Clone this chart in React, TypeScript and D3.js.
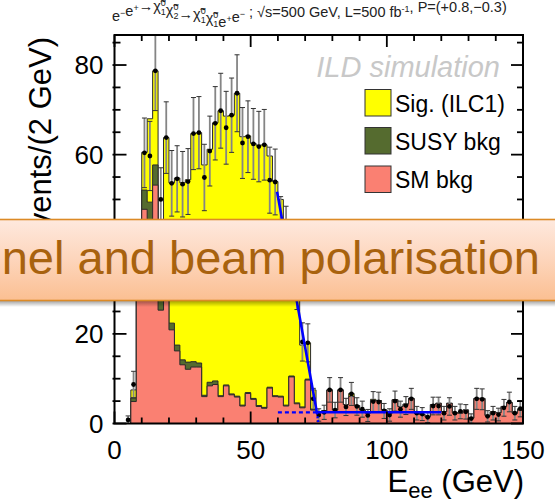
import React, { useEffect, useRef } from 'react';
import * as d3 from 'd3';

// E_ee histogram, 2 GeV bins from 0 to 150 GeV
const binLow = d3.range(0, 150, 2);

const smBkg = [
  0, 0, 0, 4.9, 33, 47.8, 44, 53.2, 25.3, 30,
  20.9, 16.2, 13.1, 12.1, 12.6, 12.6, 6.0, 8.4, 8.7, 6.0,
  8.4, 6.4, 5.9, 3.9, 6.7, 5.4, 3.8, 3.4, 7.9, 6.0,
  5.9, 3.9, 10.4, 4.4, 3.5, 9.7, 3.0, 2.6, 2.8, 7.5,
  3.0, 7.5, 4.2, 6.0, 4.0, 3.0, 2.3, 5.1, 5.1, 3.0,
  2.3, 5.3, 3.8, 4.3, 5.6, 2.3, 2.0, 1.5, 4.2, 4.5,
  2.6, 4.5, 2.4, 2.3, 3.0, 1.2, 5.6, 5.6, 1.8, 2.6,
  2.4, 3.8, 4.7, 2.3, 3.0,
];

const susyBkg = [
  0, 0, 0, 0.8, 2.5, 4.3, 5.4, 4.5, 3.7, 3.0,
  1.5, 1.3, 1.1, 1.6, 1.2, 0.9, 0.3, 0.8, 0.8, 0.2,
  0.2, 0.2, 0.2, 0.2, 0.2, 0.2, 0.2, 0.2, 0.2, 0.2,
  0.2, 0.2, 0.2, 0.2, 0.2, 0.2, 0.2, 0, 0, 0,
  0, 0, 0, 0, 0, 0, 0, 0, 0, 0,
  0, 0, 0, 0, 0, 0, 0, 0, 0, 0,
  0, 0, 0, 0, 0, 0, 0, 0, 0, 0,
  0, 0, 0, 0, 0,
];

const signal = [
  0, 0, 0, 1.8, 4, 8.4, 18.6, 21.0, 13.0, 30.8,
  31.3, 37.3, 39.5, 40.7, 50.9, 51.4, 51.4, 52.0, 57.6, 63.6,
  60.0, 62.2, 67.6, 59.9, 57.3, 56.9, 58.1, 58.6, 51.6, 47.8,
  43.9, 39.9, 26.4, 25.4, 13.8, 8.1, 4.3, 0, 0, 0,
  0, 0, 0, 0.7, 0, 0, 0, 0.3, 0, 0,
  0, 0, 0, 0, 0, 0, 0, 0, 0, 0,
  0, 0, 0, 0, 0, 0, 0, 0, 0, 0,
  0, 0, 0, 0, 0.3,
];

const dataPts: (number | null)[] = [
  null, null, 0.8, 8.7, 38, 60.4, 59.7, 78.7, 50.0, 63.8,
  53.6, 54.6, 53.4, 54.0, 64.7, 64.9, 54.9, 60.8, 67.0, 69.8,
  66.0, 68.8, 73.7, 62.6, 64.0, 62.4, 61.8, 62.2, 54.3, 53.9,
  44, 42, 36, 31, 18.2, 18.0, 5.5, 1.9, 2.5, 7.5,
  3.0, 7.5, 3.7, 6.6, 3.8, 3.2, 1.8, 4.9, 4.8, 2.8,
  1.9, 5.0, 3.2, 4.0, 5.5, 2.3, 2.1, 1.4, 3.9, 3.9,
  2.3, 3.8, 2.3, 2.7, 2.6, 1.1, 5.5, 5.4, 1.6, 2.3,
  2.0, 3.5, 4.8, 2.3, 3.3,
];

// endpoint fit (GeV, events)
const fitEdge = [[59.7, 51.7], [74.3, 2.5], [120, 2.5]];
const fitBkg = [[60, 2.5], [74.3, 2.5]];
const fitTail = [[74.3, 2.5], [74.8, 0.3]];

const xTicks = [0, 50, 100, 150];
const yTicks = [0, 20, 40, 60, 80];
const legendLabels = ['Sig. (ILC1)', 'SUSY bkg', 'SM bkg'];
const legendColors = ['#ffff00', '#556b2f', '#fa8072'];

const W = 555;
const H = 503;
const FONT = 'Liberation Sans, Arial, Helvetica, sans-serif';

export default function App() {
  const ref = useRef<SVGSVGElement>(null);

  useEffect(() => {
    const svg = d3.select(ref.current);
    svg.selectAll('*').remove();

    const margin = { top: 35, right: 32, bottom: 79.5, left: 114.5 };
    const x = d3.scaleLinear().domain([0, 150]).range([margin.left, W - margin.right]);
    const y = d3.scaleLinear().domain([0, 86.7]).range([H - margin.bottom, margin.top]);

    const defs = svg.append('defs');
    defs.append('clipPath').attr('id', 'plotclip')
      .append('rect')
      .attr('x', x(0)).attr('y', y(86.7))
      .attr('width', x(150) - x(0)).attr('height', y(0) - y(86.7));
    const grad = defs.append('linearGradient').attr('id', 'banner')
      .attr('x1', 0).attr('y1', 0).attr('x2', 0).attr('y2', 1);
    grad.append('stop').attr('offset', '0%').attr('stop-color', '#fee9de');
    grad.append('stop').attr('offset', '50%').attr('stop-color', '#fdd5bb');
    grad.append('stop').attr('offset', '100%').attr('stop-color', '#fbbf92');
    const shadow = defs.append('linearGradient').attr('id', 'shadow')
      .attr('x1', 0).attr('y1', 0).attr('x2', 0).attr('y2', 1);
    shadow.append('stop').attr('offset', '0%').attr('stop-color', '#000').attr('stop-opacity', 0.35);
    shadow.append('stop').attr('offset', '100%').attr('stop-color', '#000').attr('stop-opacity', 0);

    svg.append('rect').attr('width', W).attr('height', H).attr('fill', '#fff');

    // stacked histogram
    const total = binLow.map((_, i) => smBkg[i] + susyBkg[i] + signal[i]);
    const mid = binLow.map((_, i) => smBkg[i] + susyBkg[i]);
    const steps = (vals: number[]) => [
      ...vals.map((v, i) => [binLow[i], v]),
      [150, vals[vals.length - 1]],
    ];
    const area = d3.area<number[]>()
      .x((d) => x(d[0])).y0(y(0)).y1((d) => y(d[1]))
      .curve(d3.curveStepAfter);
    const plot = svg.append('g').attr('clip-path', 'url(#plotclip)');
    [[total, legendColors[0]], [mid, legendColors[1]], [smBkg, legendColors[2]]].forEach(([vals, col]) => {
      plot.append('path')
        .attr('d', area(steps(vals as number[])))
        .attr('fill', col as string)
        .attr('stroke', '#2a2a2a')
        .attr('stroke-width', 1);
    });

    // data with sqrt(N) errors
    const pts = dataPts
      .map((v, i) => ({ e: binLow[i] + 1, v }))
      .filter((d) => d.v !== null) as { e: number; v: number }[];
    const lo = (d: { v: number }) => Math.max(0, d.v - Math.sqrt(d.v));
    const hi = (d: { v: number }) => d.v + Math.sqrt(d.v);
    const errs = plot.append('g');
    errs.selectAll('line.err')
      .data(pts)
      .join('line')
      .attr('x1', (d) => x(d.e)).attr('x2', (d) => x(d.e))
      .attr('y1', (d) => y(lo(d)))
      .attr('y2', (d) => y(hi(d)))
      .attr('stroke', '#858585').attr('stroke-width', 1.8);
    [lo, hi].forEach((f, k) => {
      errs.selectAll(`line.cap${k}`)
        .data(pts)
        .join('line')
        .attr('x1', (d) => x(d.e) - 2.5).attr('x2', (d) => x(d.e) + 2.5)
        .attr('y1', (d) => y(f(d)))
        .attr('y2', (d) => y(f(d)))
        .attr('stroke', '#333').attr('stroke-width', 1);
    });
    plot.append('g').selectAll('circle')
      .data(pts)
      .join('circle')
      .attr('cx', (d) => x(d.e)).attr('cy', (d) => y(d.v))
      .attr('r', 2.4).attr('fill', '#000');

    // fit lines
    const fline = d3.line<number[]>().x((d) => x(d[0])).y((d) => y(d[1]));
    plot.append('path').attr('d', fline(fitBkg)).attr('fill', 'none')
      .attr('stroke', '#0000ff').attr('stroke-width', 2.2).attr('stroke-dasharray', '4 3');
    plot.append('path').attr('d', fline(fitTail)).attr('fill', 'none')
      .attr('stroke', '#0000ff').attr('stroke-width', 2.2).attr('stroke-dasharray', '2 2');
    plot.append('path').attr('d', fline(fitEdge)).attr('fill', 'none')
      .attr('stroke', '#0000ff').attr('stroke-width', 2.6);

    // frame and ticks (inward, on all four sides)
    const frame = svg.append('g').attr('stroke', '#000');
    frame.append('rect')
      .attr('x', x(0)).attr('y', y(86.7))
      .attr('width', x(150) - x(0)).attr('height', y(0) - y(86.7))
      .attr('fill', 'none').attr('stroke-width', 2);
    const xt = d3.range(0, 151, 10);
    const yt = d3.range(0, 86, 5);
    frame.selectAll('line.xb').data(xt).join('line')
      .attr('x1', (d) => x(d)).attr('x2', (d) => x(d))
      .attr('y1', y(0)).attr('y2', (d) => y(0) - (d % 50 === 0 ? 12 : 6))
      .attr('stroke-width', 1.8);
    frame.selectAll('line.xt').data(xt).join('line')
      .attr('x1', (d) => x(d)).attr('x2', (d) => x(d))
      .attr('y1', y(86.7)).attr('y2', (d) => y(86.7) + (d % 50 === 0 ? 12 : 6))
      .attr('stroke-width', 1.8);
    frame.selectAll('line.yl').data(yt).join('line')
      .attr('y1', (d) => y(d)).attr('y2', (d) => y(d))
      .attr('x1', x(0) - 2).attr('x2', (d) => x(0) + (d % 20 === 0 ? 12 : 6))
      .attr('stroke-width', 1.8);
    frame.selectAll('line.yr').data(yt).join('line')
      .attr('y1', (d) => y(d)).attr('y2', (d) => y(d))
      .attr('x1', x(150)).attr('x2', (d) => x(150) - (d % 20 === 0 ? 12 : 6))
      .attr('stroke-width', 1.8);

    const txt = svg.append('g').attr('font-family', FONT).attr('fill', '#000');
    txt.selectAll('text.xl').data(xTicks).join('text')
      .attr('x', (d) => x(d)).attr('y', 459)
      .attr('text-anchor', 'middle').attr('font-size', 26)
      .text((d) => d);
    txt.selectAll('text.yl').data(yTicks).join('text')
      .attr('x', x(0) - 11).attr('y', (d) => y(d))
      .attr('dy', '0.36em')
      .attr('text-anchor', 'end').attr('font-size', 26)
      .text((d) => d);

    // axis titles
    txt.append('text')
      .attr('transform', `translate(51,${y(86.7) + 2}) rotate(-90)`)
      .attr('text-anchor', 'end').attr('font-size', 31)
      .text('Events/(2 GeV)');
    const xtitle = txt.append('text')
      .attr('x', x(150) + 1).attr('y', 492)
      .attr('text-anchor', 'end').attr('font-size', 31);
    xtitle.append('tspan').text('E');
    xtitle.append('tspan').attr('font-size', 22).attr('dy', 6).text('ee');
    xtitle.append('tspan').attr('dy', -6).text(' (GeV)');

    // header
    const head = txt.append('text')
      .attr('x', 112).attr('y', 21).attr('font-size', 14.5).attr('fill', '#222');
    const sup = (s: string) => {
      head.append('tspan').attr('font-size', 9).attr('dy', -5).text(s);
      head.append('tspan').attr('dy', 5).text('');
    };
    const chi = (sub: string) => {
      head.append('tspan').text('\u03c7\u0303');
      head.append('tspan').attr('font-size', 9).attr('dy', -5).text('0');
      head.append('tspan').attr('font-size', 9).attr('dx', -5).attr('dy', 9).text(sub);
      head.append('tspan').attr('dy', -4).text('');
    };
    head.append('tspan').text('e');
    sup('\u2212');
    head.append('tspan').text('e');
    sup('+');
    head.append('tspan').text('\u2192');
    chi('1'); chi('2');
    head.append('tspan').text('\u2192');
    chi('1'); chi('1');
    head.append('tspan').text('e');
    sup('+');
    head.append('tspan').text('e');
    sup('\u2212');
    head.append('tspan').text(' ; \u221as=500 GeV, L=500 fb');
    sup('-1');
    head.append('tspan').text(', P=(+0.8,\u22120.3)');

    // ILD simulation tag
    txt.append('text')
      .attr('x', 500).attr('y', 77)
      .attr('text-anchor', 'end').attr('font-size', 29)
      .attr('font-style', 'italic').attr('fill', '#c8c8c8')
      .text('ILD simulation');

    // legend
    const leg = svg.append('g').attr('font-family', FONT);
    const legY = [89.5, 127.5, 166];
    legendLabels.forEach((lab, i) => {
      leg.append('rect')
        .attr('x', 365).attr('y', legY[i]).attr('width', 26).attr('height', 26.5)
        .attr('fill', legendColors[i]).attr('stroke', '#333').attr('stroke-width', 1);
      leg.append('text')
        .attr('x', 395).attr('y', legY[i] + 22)
        .attr('font-size', 23).text(lab);
    });

    // overlaid slide banner
    svg.append('rect').attr('x', 0).attr('y', 301).attr('width', W).attr('height', 6)
      .attr('fill', 'url(#shadow)');
    svg.append('rect').attr('x', -2).attr('y', 219.5).attr('width', W + 4).attr('height', 81)
      .attr('fill', 'url(#banner)').attr('stroke', '#dc8a26').attr('stroke-width', 1.6);
    svg.append('text')
      .attr('x', 540).attr('y', 274)
      .attr('text-anchor', 'end')
      .attr('font-family', FONT).attr('font-size', 47)
      .attr('fill', '#a8620e')
      .text('nel and beam polarisation');
  }, []);

  return (
    <svg
      ref={ref}
      width={W}
      height={H}
      style={{ position: 'absolute', left: 0, top: 0, display: 'block' }}
    />
  );
}
